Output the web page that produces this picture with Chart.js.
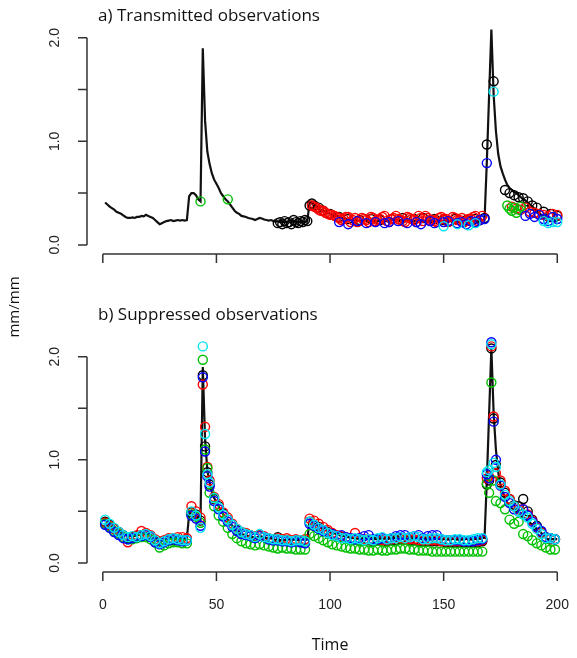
<!DOCTYPE html>
<html>
<head>
<meta charset="utf-8">
<script src="https://cdn.jsdelivr.net/npm/chart.js@4.4.0/dist/chart.umd.min.js"></script>
<style>
  body { margin: 0; background: #fff; }
  .wrap { position: relative; width: 577px; height: 658px; }
  .wrap canvas { position: absolute; left: 0; top: 0; }
</style>
</head>
<body>
<div class="wrap">
  <canvas id="chartB" width="577" height="658"></canvas>
  <canvas id="chartA" width="577" height="658"></canvas>
</div>
<script>
// axis ticks
var xTicks = [0, 50, 100, 150, 200];
var xTickLabels = ['0', '50', '100', '150', '200'];
var yTicks = [0, 0.5, 1, 1.5, 2];
var yTickLabels = ['0.0', '', '1.0', '', '2.0'];

// simulated series, t = 1..200
var truth = [
  0.41, 0.39, 0.37, 0.355, 0.34, 0.32, 0.31, 0.30, 0.285, 0.27,
  0.26, 0.26, 0.265, 0.26, 0.27, 0.27, 0.28, 0.275, 0.29, 0.28,
  0.27, 0.26, 0.24, 0.22, 0.20, 0.21, 0.22, 0.23, 0.235, 0.24,
  0.23, 0.235, 0.24, 0.235, 0.24, 0.235, 0.24, 0.47, 0.50, 0.50,
  0.48, 0.44, 0.42, 1.90, 1.20, 0.90, 0.78, 0.69, 0.63, 0.59,
  0.55, 0.50, 0.47, 0.44, 0.42, 0.39, 0.36, 0.33, 0.31, 0.30,
  0.28, 0.275, 0.27, 0.26, 0.255, 0.25, 0.24, 0.25, 0.26, 0.255,
  0.245, 0.24, 0.235, 0.24, 0.23, 0.225, 0.23, 0.22, 0.225, 0.22,
  0.225, 0.23, 0.22, 0.225, 0.23, 0.22, 0.225, 0.23, 0.22, 0.23,
  0.41, 0.40, 0.38, 0.37, 0.355, 0.34, 0.33, 0.32, 0.31, 0.30,
  0.29, 0.285, 0.28, 0.27, 0.265, 0.26, 0.255, 0.25, 0.245, 0.24,
  0.24, 0.235, 0.23, 0.235, 0.24, 0.235, 0.23, 0.23, 0.235, 0.23,
  0.23, 0.235, 0.24, 0.235, 0.23, 0.235, 0.24, 0.245, 0.24, 0.235,
  0.24, 0.235, 0.23, 0.235, 0.24, 0.235, 0.23, 0.235, 0.24, 0.235,
  0.23, 0.23, 0.235, 0.23, 0.225, 0.23, 0.235, 0.23, 0.225, 0.23,
  0.23, 0.225, 0.23, 0.235, 0.23, 0.225, 0.23, 0.225, 0.23, 0.235,
  0.23, 0.225, 0.23, 0.235, 0.23, 0.235, 0.24, 0.245, 0.80, 1.44,
  2.08, 1.45, 1.10, 0.88, 0.76, 0.69, 0.63, 0.58, 0.55, 0.53,
  0.51, 0.50, 0.48, 0.46, 0.44, 0.43, 0.41, 0.39, 0.37, 0.35,
  0.33, 0.31, 0.29, 0.26, 0.24, 0.23, 0.23, 0.23, 0.23, 0.23
];

// a) transmitted observations
var topBlackT = [77, 78, 79, 80, 81, 82, 83, 84, 85, 86, 87, 88, 89, 90, 91, 92, 93, 95, 97,
  100, 104, 108, 113, 118, 122, 127, 132, 137, 141, 146, 150, 155, 160, 164, 168,
  169, 172, 177, 179, 181, 183, 185, 187, 189, 191, 194, 197, 200];
var topBlackV = [0.21, 0.22, 0.20, 0.23, 0.21, 0.22, 0.20, 0.24, 0.22, 0.21, 0.23, 0.22, 0.24, 0.23, 0.38, 0.40, 0.38, 0.36, 0.33,
  0.30, 0.27, 0.25, 0.24, 0.25, 0.24, 0.25, 0.26, 0.25, 0.26, 0.25, 0.24, 0.25, 0.24, 0.25, 0.26,
  0.97, 1.58, 0.53, 0.50, 0.48, 0.46, 0.45, 0.42, 0.38, 0.36, 0.32, 0.30, 0.28];
var topRedT = [92, 93, 94, 95, 96, 97, 98, 99, 100, 101, 102, 103, 104, 105, 106, 107, 108, 109, 110, 111,
  112, 113, 114, 115, 116, 117, 118, 119, 120, 121, 122, 123, 124, 125, 126, 127, 128, 129, 130, 131,
  132, 133, 134, 135, 136, 137, 138, 139, 140, 141, 142, 143, 144, 145, 146, 147, 148, 149, 150, 151,
  152, 153, 154, 155, 156, 157, 158, 159, 160, 161, 162, 163, 164, 165, 166, 167,
  180, 182, 184, 186, 188, 190, 192, 194, 196, 198, 200];
var topRedV = [0.38, 0.37, 0.36, 0.34, 0.33, 0.33, 0.31, 0.30, 0.29, 0.29, 0.28, 0.27, 0.26, 0.24, 0.25, 0.27, 0.27, 0.22, 0.24, 0.26,
  0.22, 0.23, 0.26, 0.25, 0.24, 0.22, 0.27, 0.26, 0.23, 0.24, 0.25, 0.27, 0.28, 0.23, 0.22, 0.25, 0.26, 0.28, 0.25, 0.24,
  0.23, 0.22, 0.27, 0.26, 0.25, 0.24, 0.22, 0.28, 0.26, 0.23, 0.28, 0.26, 0.24, 0.24, 0.23, 0.22, 0.26, 0.27, 0.25, 0.25,
  0.22, 0.23, 0.27, 0.26, 0.24, 0.24, 0.26, 0.22, 0.23, 0.25, 0.25, 0.27, 0.28, 0.23, 0.24, 0.28,
  0.37, 0.35, 0.34, 0.36, 0.32, 0.31, 0.30, 0.29, 0.28, 0.30, 0.29];
var topBlueT = [104, 108, 112, 116, 120, 124, 126, 130, 134, 138, 140, 144, 146, 150, 152, 156, 158, 160, 162, 164,
  166, 168, 169, 186, 188, 190, 192, 194, 196, 198, 200];
var topBlueV = [0.22, 0.20, 0.23, 0.21, 0.22, 0.21, 0.22, 0.23, 0.21, 0.22, 0.20, 0.23, 0.21, 0.22, 0.23, 0.21, 0.22, 0.20, 0.23, 0.22,
  0.24, 0.25, 0.79, 0.28, 0.30, 0.27, 0.29, 0.25, 0.23, 0.27, 0.25];
var topCyanT = [150, 156, 161, 164, 172, 194, 196, 198, 200];
var topCyanV = [0.18, 0.20, 0.19, 0.21, 1.48, 0.23, 0.21, 0.22, 0.22];
var topGreenT = [43, 55, 178, 179, 180, 181, 182, 183, 184];
var topGreenV = [0.42, 0.44, 0.38, 0.35, 0.33, 0.36, 0.31, 0.34, 0.37];

// b) suppressed observations
var botT = [1, 3, 5, 7, 9, 11, 13, 15, 17, 19, 21, 23, 25, 27, 29, 31, 33, 35, 37, 39,
  41, 43, 44, 45, 46, 47, 49, 51, 53, 55, 57, 59, 61, 63, 65, 67, 69, 71, 73, 75,
  77, 79, 81, 83, 85, 87, 89, 91, 93, 95, 97, 99, 101, 103, 105, 107, 109, 111, 113, 115,
  117, 119, 121, 123, 125, 127, 129, 131, 133, 135, 137, 139, 141, 143, 145, 147, 149, 151, 153, 155,
  157, 159, 161, 163, 165, 167, 169, 170, 171, 172, 173, 175, 177, 179, 181, 183, 185, 187, 189, 191,
  193, 195, 197, 199];
var botBlack = [0.40, 0.37, 0.33, 0.30, 0.27, 0.24, 0.25, 0.26, 0.27, 0.28, 0.26, 0.22, 0.19, 0.21, 0.23, 0.22, 0.23, 0.22, 0.22, 0.49,
  0.47, 0.41, 1.82, 1.13, 0.88, 0.76, 0.62, 0.55, 0.48, 0.42, 0.37, 0.32, 0.30, 0.28, 0.26, 0.25, 0.27, 0.25, 0.23, 0.22,
  0.25, 0.22, 0.22, 0.21, 0.22, 0.21, 0.21, 0.40, 0.37, 0.35, 0.32, 0.30, 0.28, 0.26, 0.25, 0.24, 0.23, 0.23, 0.22, 0.22,
  0.22, 0.21, 0.22, 0.22, 0.21, 0.22, 0.22, 0.23, 0.23, 0.22, 0.22, 0.21, 0.21, 0.21, 0.21, 0.21, 0.21, 0.20, 0.20, 0.20,
  0.20, 0.20, 0.20, 0.20, 0.20, 0.21, 0.76, 0.80, 2.08, 1.40, 0.95, 0.78, 0.68, 0.62, 0.56, 0.55, 0.62, 0.50, 0.42, 0.36,
  0.30, 0.25, 0.24, 0.23];
var botRed = [0.39, 0.36, 0.33, 0.29, 0.25, 0.20, 0.24, 0.27, 0.31, 0.29, 0.27, 0.23, 0.21, 0.22, 0.24, 0.24, 0.25, 0.25, 0.24, 0.55,
  0.50, 0.44, 1.73, 1.32, 0.93, 0.80, 0.64, 0.57, 0.49, 0.44, 0.38, 0.33, 0.30, 0.29, 0.27, 0.26, 0.27, 0.26, 0.24, 0.23,
  0.24, 0.23, 0.24, 0.22, 0.23, 0.22, 0.23, 0.43, 0.41, 0.38, 0.35, 0.32, 0.29, 0.27, 0.26, 0.25, 0.24, 0.29, 0.24, 0.23,
  0.23, 0.22, 0.23, 0.22, 0.22, 0.23, 0.24, 0.24, 0.23, 0.23, 0.23, 0.22, 0.22, 0.22, 0.22, 0.22, 0.21, 0.21, 0.21, 0.21,
  0.21, 0.21, 0.21, 0.21, 0.21, 0.22, 0.82, 0.84, 2.10, 1.42, 0.87, 0.80, 0.70, 0.62, 0.55, 0.52, 0.52, 0.47, 0.41, 0.34,
  0.29, 0.24, 0.23, 0.23];
var botGreen = [0.38, 0.35, 0.31, 0.28, 0.25, 0.23, 0.23, 0.24, 0.25, 0.25, 0.23, 0.20, 0.15, 0.17, 0.19, 0.20, 0.20, 0.19, 0.19, 0.47,
  0.45, 0.39, 1.97, 1.10, 0.92, 0.68, 0.55, 0.46, 0.40, 0.34, 0.28, 0.24, 0.21, 0.19, 0.18, 0.17, 0.18, 0.17, 0.16, 0.15,
  0.14, 0.15, 0.14, 0.14, 0.13, 0.13, 0.13, 0.28, 0.26, 0.24, 0.22, 0.20, 0.18, 0.17, 0.16, 0.15, 0.14, 0.14, 0.13, 0.13,
  0.12, 0.12, 0.13, 0.12, 0.12, 0.13, 0.13, 0.14, 0.14, 0.13, 0.13, 0.12, 0.12, 0.12, 0.11, 0.11, 0.11, 0.11, 0.11, 0.11,
  0.11, 0.11, 0.11, 0.11, 0.11, 0.11, 0.77, 0.68, 1.75, 0.80, 0.60, 0.58, 0.52, 0.42, 0.38, 0.40, 0.28, 0.26, 0.22, 0.19,
  0.17, 0.15, 0.13, 0.13];
var botBlue = [0.37, 0.34, 0.30, 0.27, 0.24, 0.23, 0.24, 0.25, 0.26, 0.27, 0.25, 0.20, 0.18, 0.20, 0.22, 0.23, 0.22, 0.21, 0.22, 0.46,
  0.43, 0.36, 1.80, 1.08, 0.84, 0.74, 0.60, 0.52, 0.45, 0.40, 0.35, 0.31, 0.28, 0.27, 0.26, 0.24, 0.26, 0.25, 0.23, 0.22,
  0.22, 0.21, 0.21, 0.20, 0.21, 0.20, 0.19, 0.38, 0.36, 0.33, 0.31, 0.29, 0.28, 0.26, 0.27, 0.25, 0.24, 0.23, 0.24, 0.26,
  0.27, 0.23, 0.23, 0.24, 0.23, 0.24, 0.26, 0.27, 0.27, 0.25, 0.26, 0.27, 0.24, 0.26, 0.27, 0.27, 0.23, 0.22, 0.22, 0.22,
  0.22, 0.21, 0.21, 0.21, 0.22, 0.23, 0.86, 0.82, 2.14, 1.37, 1.00, 0.75, 0.64, 0.58, 0.52, 0.50, 0.52, 0.46, 0.40, 0.35,
  0.31, 0.25, 0.24, 0.23];
var botCyan = [0.42, 0.38, 0.34, 0.30, 0.27, 0.25, 0.26, 0.25, 0.27, 0.28, 0.26, 0.22, 0.19, 0.21, 0.23, 0.24, 0.23, 0.22, 0.22, 0.50,
  0.46, 0.34, 2.10, 1.25, 0.86, 0.78, 0.63, 0.54, 0.47, 0.42, 0.37, 0.33, 0.30, 0.28, 0.27, 0.25, 0.28, 0.25, 0.24, 0.23,
  0.23, 0.22, 0.22, 0.21, 0.22, 0.22, 0.21, 0.40, 0.37, 0.34, 0.32, 0.29, 0.27, 0.26, 0.24, 0.24, 0.23, 0.24, 0.23, 0.22,
  0.23, 0.22, 0.24, 0.25, 0.23, 0.24, 0.24, 0.25, 0.24, 0.25, 0.26, 0.25, 0.23, 0.23, 0.24, 0.24, 0.23, 0.22, 0.22, 0.23,
  0.23, 0.22, 0.22, 0.23, 0.24, 0.24, 0.88, 0.90, 2.12, 0.97, 0.93, 0.76, 0.66, 0.60, 0.55, 0.50, 0.47, 0.44, 0.38, 0.33,
  0.28, 0.24, 0.24, 0.23];

function pairs(ts, vs) {
  return ts.map(function (t, i) { return { x: t, y: vs[i] }; });
}

function obsSet(ts, vs, color) {
  return {
    data: pairs(ts, vs),
    showLine: false,
    borderColor: color,
    backgroundColor: 'rgba(0,0,0,0)',
    pointRadius: 4.5,
    pointHoverRadius: 4.5,
    pointBorderWidth: 1.4
  };
}

function truthSet() {
  return {
    data: truth.map(function (v, i) { return { x: i + 1, y: v }; }),
    showLine: true,
    borderColor: '#111',
    borderWidth: 2.2,
    pointRadius: 0,
    fill: false,
    tension: 0
  };
}

// R style detached axes, titles
var rAxes = {
  id: 'rAxes',
  afterDraw: function (chart, args, opts) {
    var ctx = chart.ctx;
    var area = chart.chartArea;
    var xs = chart.scales.x, ys = chart.scales.y;
    ctx.save();
    ctx.strokeStyle = '#333';
    ctx.lineWidth = 1.5;
    ctx.beginPath();
    ctx.moveTo(area.left, ys.getPixelForValue(yTicks[0]));
    ctx.lineTo(area.left, ys.getPixelForValue(yTicks[yTicks.length - 1]));
    yTicks.forEach(function (v) {
      var p = ys.getPixelForValue(v);
      ctx.moveTo(area.left, p);
      ctx.lineTo(area.left - 9, p);
    });
    ctx.moveTo(xs.getPixelForValue(xTicks[0]), area.bottom);
    ctx.lineTo(xs.getPixelForValue(xTicks[xTicks.length - 1]), area.bottom);
    xTicks.forEach(function (v) {
      var p = xs.getPixelForValue(v);
      ctx.moveTo(p, area.bottom);
      ctx.lineTo(p, area.bottom + 9);
    });
    ctx.stroke();

    ctx.fillStyle = '#222';
    ctx.font = '14px "Liberation Sans", Arial, sans-serif';
    ctx.textAlign = 'center';
    ctx.textBaseline = 'middle';
    yTicks.forEach(function (v, i) {
      if (!yTickLabels[i]) return;
      ctx.save();
      ctx.translate(area.left - 32, ys.getPixelForValue(v));
      ctx.rotate(-Math.PI / 2);
      ctx.fillText(yTickLabels[i], 0, 0);
      ctx.restore();
    });
    if (opts.xLabels) {
      xTicks.forEach(function (v, i) {
        ctx.fillText(xTickLabels[i], xs.getPixelForValue(v), area.bottom + 33);
      });
    }

    ctx.fillStyle = '#111';
    ctx.font = '17px "Open Sans", sans-serif';
    ctx.textAlign = 'left';
    ctx.textBaseline = 'alphabetic';
    ctx.fillText(opts.title, 98, opts.titleY);

    if (opts.xTitle) {
      ctx.font = '16px "Open Sans", sans-serif';
      ctx.textAlign = 'center';
      ctx.textBaseline = 'middle';
      ctx.fillText(opts.xTitle, xs.getPixelForValue(100), 645);
    }
    if (opts.yTitle) {
      ctx.font = '15px "Open Sans", sans-serif';
      ctx.textAlign = 'center';
      ctx.textBaseline = 'middle';
      ctx.save();
      ctx.translate(15, 307);
      ctx.rotate(-Math.PI / 2);
      ctx.fillText(opts.yTitle, 0, 0);
      ctx.restore();
    }
    ctx.restore();
  }
};

function makeChart(id, datasets, padding, axOpts) {
  return new Chart(document.getElementById(id).getContext('2d'), {
    type: 'scatter',
    data: { datasets: datasets },
    plugins: [rAxes],
    options: {
      responsive: false,
      animation: false,
      events: [],
      layout: { padding: padding },
      plugins: {
        legend: { display: false },
        tooltip: { enabled: false },
        rAxes: axOpts
      },
      scales: {
        x: { type: 'linear', min: -6.96, max: 206.09, display: false },
        y: { type: 'linear', min: -0.088, max: 2.288, display: false }
      }
    }
  });
}

// first dataset is drawn on top
makeChart('chartA', [
  obsSet(topCyanT, topCyanV, '#00e5ee'),
  obsSet(topBlueT, topBlueV, '#0000ff'),
  obsSet(topGreenT, topGreenV, '#00c000'),
  obsSet(topRedT, topRedV, '#ff0000'),
  obsSet(topBlackT, topBlackV, '#000000'),
  truthSet()
], { left: 87, right: 0, top: 8, bottom: 404 },
  { title: 'a) Transmitted observations', titleY: 21, xLabels: false });

makeChart('chartB', [
  obsSet(botT, botCyan, '#00e5ee'),
  obsSet(botT, botBlue, '#0000ff'),
  obsSet(botT, botGreen, '#00c000'),
  obsSet(botT, botRed, '#ff0000'),
  obsSet(botT, botBlack, '#000000'),
  truthSet()
], { left: 87, right: 0, top: 327, bottom: 86 },
  { title: 'b) Suppressed observations', titleY: 320, xLabels: true, xTitle: 'Time', yTitle: 'mm/mm' });
</script>
</body>
</html>
